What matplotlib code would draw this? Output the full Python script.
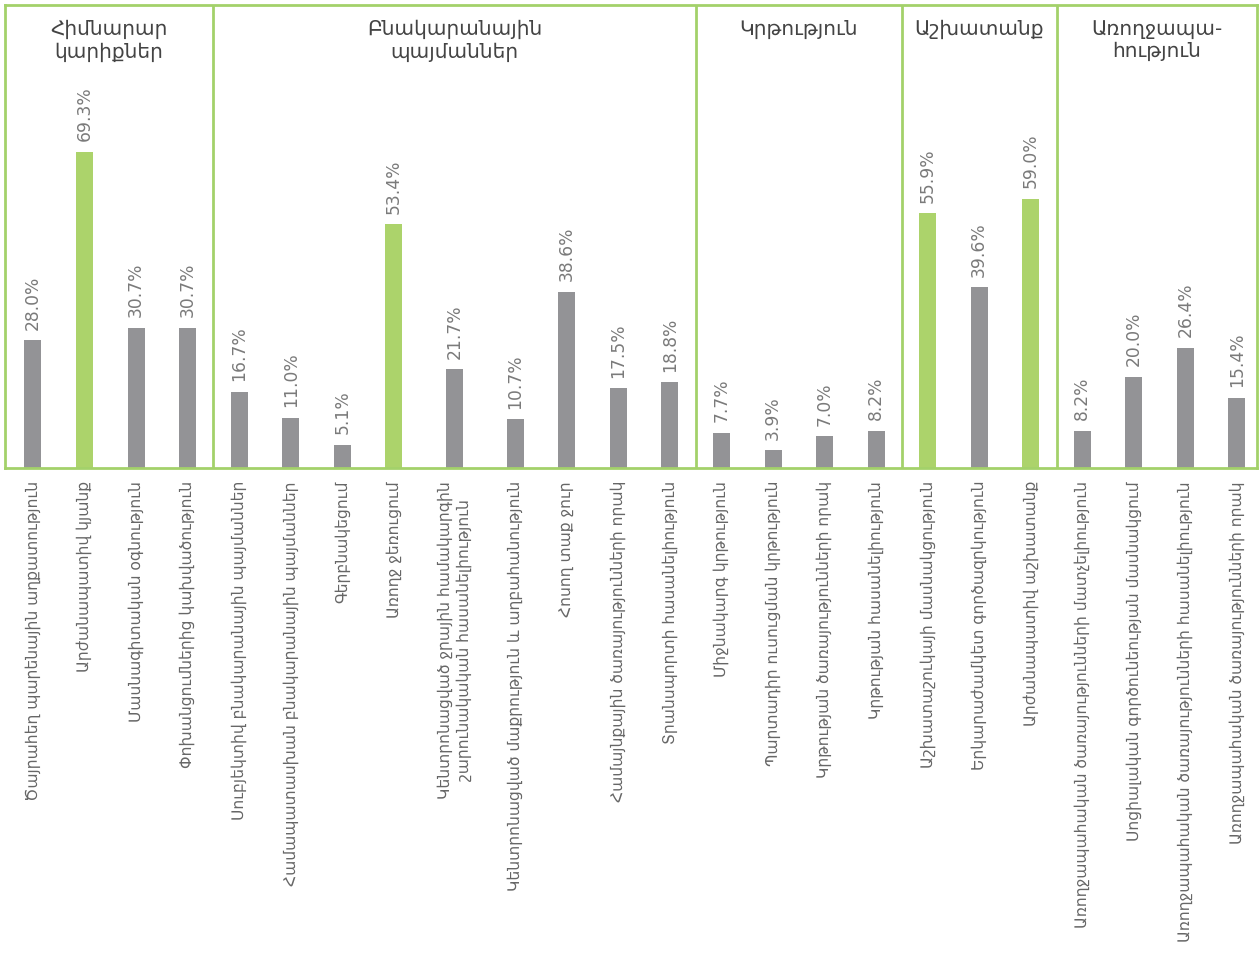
import matplotlib
matplotlib.use("Agg")
import matplotlib.pyplot as plt
import numpy as np

plt.rcParams["font.family"] = ["DejaVu Sans"]

# data
categories = [
    "Ծայրահեղ պարենային աղքատություն",
    "Արժանապատիվ կյանք",
    "Մասնագիտական օգնություն",
    "Փոխանցումներից կախվածություն",
    "Սուբյեկտիվ բնակարանային պայմաններ",
    "Համապատասխան բնակարանային պայմաններ",
    "Գերբնակեցում",
    "Առողջ ջեռուցում",
    "Կենտրոնացված ջրային համակարգին\nշարունակական հասանելիություն",
    "Կենտրոնացված մաքրություն և աղբահանություն",
    "Հոսող տաք ջուր",
    "Համայնքային ծառայությունների որակ",
    "Տրանսպորտի հասանելիություն",
    "Միջնակարգ կրթություն",
    "Պարտադիր ուսուցման կրթություն",
    "Կրթության ծառայությունների որակ",
    "Կրթության հասանելիություն",
    "Աշխատաշուկայի մասնակցություն",
    "Երկարաժամկետ գործազրկություն",
    "Արժանապատիվ աշխատանք",
    "Առողջապահական ծառայությունների մատչելիություն",
    "Սոցիալական գործունեության մասնակցում",
    "Առողջապահական ծառայությունների հասանելիություն",
    "Առողջապահական ծառայությունների որակ",
]
values = [28.0, 69.3, 30.7, 30.7,
          16.7, 11.0, 5.1, 53.4, 21.7, 10.7, 38.6, 17.5, 18.8,
          7.7, 3.9, 7.0, 8.2,
          55.9, 39.6, 59.0,
          8.2, 20.0, 26.4, 15.4]
highlight = [1, 7, 17, 19]
groups = ["Հիմնարար\nկարիքներ", "Բնակարանային\nպայմաններ", "Կրթություն",
          "Աշխատանք", "Առողջապա-\nհություն"]
group_sizes = [4, 9, 4, 3, 4]

GREEN = "#acd36b"
GRAY = "#939396"
BORDER = "#a3d16a"

W, H = 1260, 957
fig = plt.figure(figsize=(W / 100, H / 100), dpi=100)
ax = fig.add_axes([5 / W, (H - 468) / H, (1257 - 5) / W, (468 - 5) / H])

# the two-line label gets a bit more room on both sides
gaps = np.ones(len(values) - 1)
gaps[7] = gaps[8] = 1.18
pos = np.concatenate([[0.0], np.cumsum(gaps)])

colors = [GREEN if i in highlight else GRAY for i in range(len(values))]
ax.bar(pos, values, width=0.33, color=colors, zorder=2)

for x, v in zip(pos, values):
    ax.text(x, v + 2.3, f"{v:.1f}%", rotation=90, ha="center", va="bottom",
            fontsize=12.3, color="#7a7a7a")

ax.set_xlim(-0.543, pos[-1] + 0.39)
ax.set_ylim(0, 101.5)
ax.set_xticks([])
ax.set_yticks([])
for sp in ax.spines.values():
    sp.set_color(BORDER)
    sp.set_linewidth(2)

# group dividers and headers
ends = np.cumsum(group_sizes)
bounds = [ax.get_xlim()[0]]
for e in ends[:-1]:
    b = (pos[e - 1] + pos[e]) / 2
    bounds.append(b)
    ax.axvline(b, color=BORDER, lw=2, zorder=1)
bounds.append(ax.get_xlim()[1])
for i, g in enumerate(groups):
    cx = (bounds[i] + bounds[i + 1]) / 2
    ax.text(cx, 0.968, g, transform=ax.get_xaxis_transform(), ha="center",
            va="top", fontsize=14.5, color="#444444", linespacing=1.2)

# category labels below the box
for x, c in zip(pos, categories):
    ax.annotate(c, (x, 0), xycoords=("data", "axes fraction"),
                xytext=(0, -13), textcoords="offset pixels", rotation=90,
                ha="center", va="top", fontsize=11.2, color="#666666",
                linespacing=1.25, annotation_clip=False)

fig.savefig("out.png", dpi=100)
